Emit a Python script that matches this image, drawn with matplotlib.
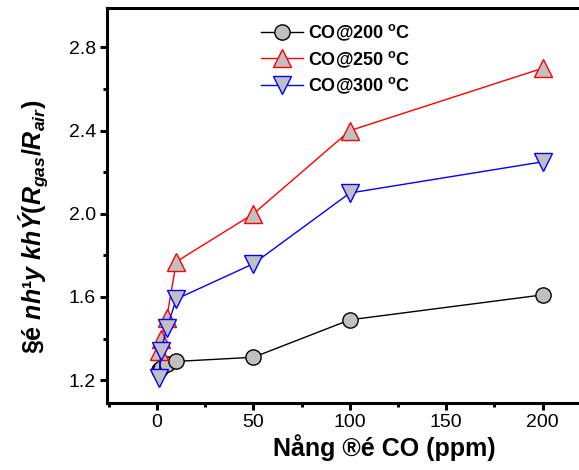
import matplotlib
matplotlib.use("Agg")
import matplotlib.pyplot as plt
from matplotlib.ticker import MultipleLocator

# CO concentration (ppm) and response at three temperatures
conc = [1, 2, 5, 10, 50, 100, 200]
resp_200 = [1.25, 1.26, 1.28, 1.29, 1.31, 1.49, 1.61]
resp_250 = [1.34, 1.40, 1.50, 1.77, 2.00, 2.40, 2.70]
resp_300 = [1.21, 1.34, 1.45, 1.59, 1.76, 2.10, 2.25]
labels = [r"CO@200 $^\mathrm{o}$C", r"CO@250 $^\mathrm{o}$C", r"CO@300 $^\mathrm{o}$C"]

plt.rcParams["font.family"] = ["Liberation Sans", "DejaVu Sans"]
plt.rcParams["mathtext.fontset"] = "custom"
plt.rcParams["mathtext.rm"] = "Liberation Sans:bold"
plt.rcParams["mathtext.it"] = "Liberation Sans:bold:italic"
plt.rcParams["mathtext.bf"] = "Liberation Sans:bold"

fig = plt.figure(figsize=(5.79, 4.70), dpi=100)
ax = fig.add_axes([107 / 579, 67 / 470, 476 / 579, 395 / 470])

gray = "#c0c0c0"
ax.plot(conc, resp_200, "-o", color="black", lw=1, ms=11,
        mfc=gray, mec="black", mew=1, label=labels[0])
ax.plot(conc, resp_250, "-^", color="red", lw=1, ms=13,
        mfc=gray, mec="red", mew=1, label=labels[1])
ax.plot(conc, resp_300, "-v", color="blue", lw=1, ms=13,
        mfc=gray, mec="blue", mew=1, label=labels[2])

ax.set_xlim(-26, 221)
ax.set_ylim(1.09, 2.99)
ax.xaxis.set_major_locator(MultipleLocator(50))
ax.xaxis.set_minor_locator(MultipleLocator(25))
ax.yaxis.set_major_locator(MultipleLocator(0.4))
ax.yaxis.set_minor_locator(MultipleLocator(0.2))
ax.yaxis.set_major_formatter(matplotlib.ticker.FormatStrFormatter("%.1f"))

for s in ax.spines.values():
    s.set_linewidth(2.2)
ax.tick_params(which="major", direction="out", length=5, width=2.2,
               labelsize=14, pad=3)
ax.tick_params(which="minor", direction="out", length=3, width=2.2)

ax.set_xlabel("Nång ®é CO (ppm)", fontsize=18, fontweight="bold")
ax.xaxis.set_label_coords(0.582, -0.078)
ax.set_ylabel(r"§é $\mathit{nh¹y\ khÝ(R_{gas}/R_{air})}$", fontsize=18,
              fontweight="bold")
ax.yaxis.set_label_coords(-0.12, 0.446)

leg = ax.legend(loc="upper left", bbox_to_anchor=(0.29, 1.005), frameon=False,
                prop={"weight": "bold", "size": 13}, handlelength=2.3,
                handletextpad=0.3, labelspacing=0.35)

fig.savefig("out.png", dpi=100)
